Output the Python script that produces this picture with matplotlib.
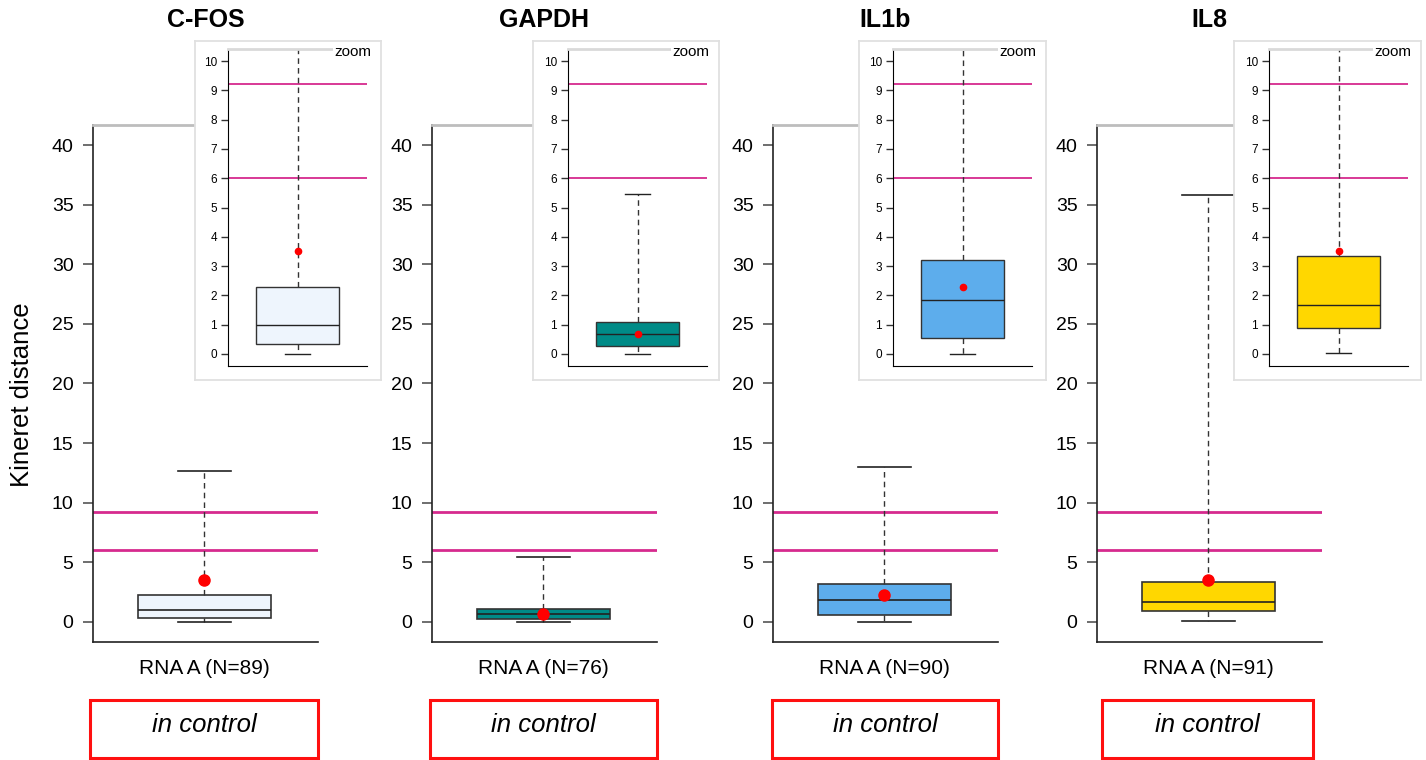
import matplotlib.pyplot as plt
from matplotlib.patches import Rectangle

plt.rcParams['font.family'] = ['Liberation Sans', 'DejaVu Sans']

# data
genes = ['C-FOS', 'GAPDH', 'IL1b', 'IL8']
n_obs = [89, 76, 90, 91]
whislo = [0.0, 0.0, 0.0, 0.05]
q1 = [0.34, 0.26, 0.55, 0.90]
med = [1.0, 0.69, 1.83, 1.67]
q3 = [2.28, 1.10, 3.21, 3.36]
whishi = [12.65, 5.45, 12.98, 35.8]
means = [3.52, 0.68, 2.28, 3.52]
box_colors = ['#eef5fd', '#008b87', '#5dadec', '#ffd700']
thresholds = [9.2, 6.0]
group_label = 'RNA A'
condition = 'in control'

W, H = 1426, 760
fig = plt.figure(figsize=(W / 100, H / 100), dpi=100)


def fpos(x0, x1, y0, y1):
    # pixel box (top-left origin) -> figure fraction
    return [x0 / W, 1 - y1 / H, (x1 - x0) / W, (y1 - y0) / H]


main_x = [(93, 318), (432, 657), (773, 998), (1097, 1322)]
frame_x = [(195, 381), (533, 719), (859, 1046), (1234, 1421)]
inner_x = [(228, 367), (568, 707), (893, 1032), (1269, 1408)]
cond_x = [(90, 318), (430, 657), (772, 998), (1102, 1313)]
line_col = '#d62a8e'


def draw_box(ax, i, capw, lw, msize):
    stats = [dict(whislo=whislo[i], q1=q1[i], med=med[i], q3=q3[i],
                  whishi=whishi[i], mean=means[i], fliers=[])]
    ax.bxp(stats, positions=[1], widths=0.59, capwidths=[capw],
           patch_artist=True, showmeans=True, showfliers=False,
           boxprops=dict(facecolor=box_colors[i], edgecolor='#333333', linewidth=lw),
           medianprops=dict(color='#222222', linewidth=lw),
           whiskerprops=dict(color='#333333', linestyle=(0, (4, 3)), linewidth=1),
           capprops=dict(color='#222222', linewidth=lw),
           meanprops=dict(marker='o', markerfacecolor='red', markeredgecolor='red',
                          markersize=msize))


for i, gene in enumerate(genes):
    # main panel
    ax = fig.add_axes(fpos(main_x[i][0], main_x[i][1], 125, 642))
    for t in thresholds:
        ax.axhline(t, color=line_col, linewidth=2, zorder=1)
    draw_box(ax, i, 0.235, 1.2, 8)
    ax.set_xlim(0.505, 1.505)
    ax.set_ylim(-1.68, 41.68)
    ax.set_yticks(range(0, 41, 5))
    ax.set_xticks([1], [f'{group_label} (N={n_obs[i]})'])
    ax.tick_params(axis='x', length=0, pad=12, labelsize=15)
    ax.tick_params(axis='y', length=7, width=1.2, color='#555555', pad=7, labelsize=14)
    ax.spines['right'].set_visible(False)
    ax.spines['top'].set_color('#bdbdbd')
    ax.spines['top'].set_linewidth(2)
    ax.spines['left'].set_color('#222222')
    ax.spines['bottom'].set_color('#222222')
    ax.spines['left'].set_linewidth(1.2)
    ax.spines['bottom'].set_linewidth(1.2)

    cx = (main_x[i][0] + main_x[i][1]) / 2
    fig.text(cx / W, 1 - 20 / H, gene, ha='center', va='center',
             fontsize=18, fontweight='bold')

    # inset frame
    fr = fig.add_axes(fpos(frame_x[i][0], frame_x[i][1], 41, 380))
    fr.set_xticks([])
    fr.set_yticks([])
    for s in fr.spines.values():
        s.set_color('#e0e0e0')
        s.set_linewidth(1.3)

    # inset zoom axes
    ia = fig.add_axes(fpos(inner_x[i][0], inner_x[i][1], 49, 366))
    ia.patch.set_alpha(0)
    for t in thresholds:
        ia.axhline(t, color=line_col, linewidth=1.3, zorder=1)
    draw_box(ia, i, 0.18, 1.0, 4.5)
    ia.set_xlim(0.5, 1.5)
    ia.set_ylim(-0.41, 10.41)
    ia.set_yticks(range(0, 11))
    ia.set_xticks([])
    ia.tick_params(axis='y', length=5, width=1, color='#333333', pad=3, labelsize=8.5)
    ia.spines['right'].set_visible(False)
    ia.spines['top'].set_color('#d9d9d9')
    ia.spines['top'].set_linewidth(2)
    ia.text((frame_x[i][1] - 10) / W, 1 - 52 / H, 'zoom', transform=fig.transFigure,
            ha='right', va='center', fontsize=11, zorder=10, clip_on=False,
            bbox=dict(facecolor='white', edgecolor='none', pad=1))

    # condition box
    x0, x1 = cond_x[i]
    fig.patches.append(Rectangle((x0 / W, 1 - 758 / H), (x1 - x0) / W, 58 / H,
                                 transform=fig.transFigure, fill=False,
                                 edgecolor='#ff1010', linewidth=2.2))
    fig.text((x0 + x1) / 2 / W, 1 - 725 / H, condition, ha='center', va='center',
             fontsize=18.5, style='italic')

fig.text(22 / W, 1 - 395 / H, 'Kineret distance', rotation=90, ha='center', va='center',
         fontsize=18.5)

fig.savefig('out.png', dpi=100)
